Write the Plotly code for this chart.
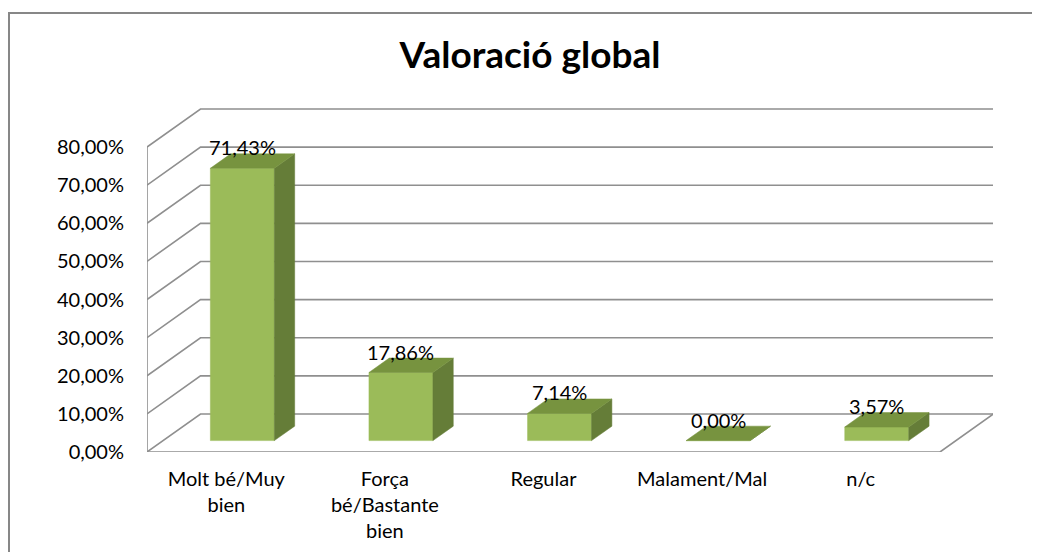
import plotly.graph_objects as go

# ---- data ----
categories = ["Molt bé/Muy<br>bien", "Força<br>bé/Bastante<br>bien", "Regular", "Malament/Mal", "n/c"]
values = [71.43, 17.86, 7.14, 0.00, 3.57]
tick_values = [0, 10, 20, 30, 40, 50, 60, 70, 80]
tick_labels = [f"{v:.2f}%".replace(".", ",") for v in tick_values]
value_labels = [f"{v:.2f}%".replace(".", ",") for v in values]

# ---- geometry (oblique 3D look) ----
OFF = 8                 # page body margin
W, H = 1040 - OFF, 552 - OFF
ML = 147 - OFF
MT = 100 - OFF
MR = W - (993 - OFF)
MB = H - (452 - OFF)
CAT_PX = 158.6          # px per category at front
VAL_PX = 3.8125         # px per percent
DEPTH_DX_PX, DEPTH_DY_PX = 53.5, 38.0
DX = DEPTH_DX_PX / CAT_PX
DY = DEPTH_DY_PX / VAL_PX
BAR_HALF = 32 / CAT_PX
T0, T1 = 0.30, 0.68
N = len(categories)
XMAX = (W - ML - MR) / CAT_PX
YMAX = (H - MT - MB) / VAL_PX

FRONT = "#9BBB59"
TOP = "#77933F"
SIDE = "#657D38"
GRID = "#8f8f8f"
FONT = "Lato, Carlito, Calibri, sans-serif"


def proj(u, v, t):
    return u + t * DX, v + t * DY


fig = go.Figure()

# grid / walls
gx, gy = [], []
ymax_tick = tick_values[-1]
for v in tick_values:
    for (u, t) in [(0, 0), (0, 1), (N, 1)]:
        x, y = proj(u, v, t)
        gx.append(x); gy.append(y)
    gx.append(None); gy.append(None)
for seg in [[(0, 0, 0), (0, ymax_tick, 0)],
            [(0, 0, 0), (N, 0, 0), (N, 0, 1)]]:
    for (u, v, t) in seg:
        x, y = proj(u, v, t)
        gx.append(x); gy.append(y)
    gx.append(None); gy.append(None)
fig.add_trace(go.Scatter(x=gx, y=gy, mode="lines", line=dict(color=GRID, width=1.6),
                         hoverinfo="skip", showlegend=False, cliponaxis=False))


def poly(pts, color):
    xs, ys = [], []
    for (u, v, t) in pts:
        x, y = proj(u, v, t)
        xs.append(x); ys.append(y)
    xs.append(xs[0]); ys.append(ys[0])
    fig.add_trace(go.Scatter(x=xs, y=ys, mode="lines", fill="toself", fillcolor=color,
                             line=dict(color=color, width=0.5), hoverinfo="skip",
                             showlegend=False, cliponaxis=False))


for i, val in enumerate(values):
    c = i + 0.5
    l, r = c - BAR_HALF, c + BAR_HALF
    poly([(l, 0, T0), (r, 0, T0), (r, val, T0), (l, val, T0)], FRONT)
    poly([(r, 0, T0), (r, 0, T1), (r, val, T1), (r, val, T0)], SIDE)
    poly([(l, val, T0), (r, val, T0), (r, val, T1), (l, val, T1)], TOP)
    x, y = proj(c, val, T0)
    fig.add_annotation(x=x, y=y, text=value_labels[i], showarrow=False, yshift=21,
                       xanchor="center", yanchor="middle",
                       font=dict(family=FONT, size=20, color="#000"))


# chart border (extends past the canvas right/bottom)
def px2paper_x(px):
    return (px - OFF - ML) / (W - ML - MR)


def px2paper_y(py):
    return (H - MB - (py - OFF)) / (H - MT - MB)


fig.add_shape(type="rect", xref="paper", yref="paper",
              x0=px2paper_x(9), x1=px2paper_x(1070), y0=px2paper_y(13), y1=px2paper_y(580),
              line=dict(color="#878787", width=2), fillcolor="rgba(0,0,0,0)", layer="below")

fig.update_layout(
    width=W, height=H,
    margin=dict(l=ML, r=MR, t=MT, b=MB, pad=0, autoexpand=False),
    paper_bgcolor="white", plot_bgcolor="white",
    showlegend=False,
    title=dict(text="<b>Valoració global</b>", x=(530 - OFF) / W, xanchor="center",
               y=1 - (55 - OFF) / H, yanchor="middle",
               font=dict(family=FONT, size=37, color="#000")),
    xaxis=dict(range=[0, XMAX], showgrid=False, zeroline=False, showline=False,
               automargin=False,
               tickmode="array", tickvals=[i + 0.5 for i in range(N)], ticktext=categories,
               ticks="", ticklabelstandoff=13,
               tickfont=dict(family=FONT, size=20, color="#000"), fixedrange=True),
    yaxis=dict(range=[0, YMAX], showgrid=False, zeroline=False, showline=False,
               automargin=False,
               tickmode="array", tickvals=tick_values, ticktext=tick_labels,
               ticks="", ticklabelstandoff=22,
               tickfont=dict(family=FONT, size=20, color="#000"), fixedrange=True),
)

fig.write_html("out.html")
